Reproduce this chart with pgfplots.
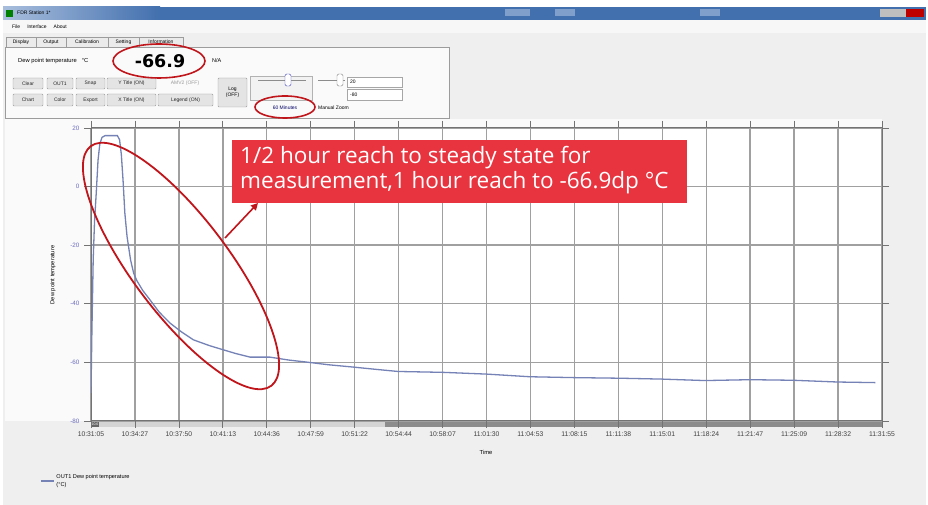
\documentclass[border=0pt]{standalone}
\usepackage{pgfplots}
\pgfplotsset{compat=1.18}
\usepackage{fontspec}
\setmainfont{Liberation Sans}
\newfontfamily\seg{Open Sans}
\newfontfamily\dvb{DejaVu Sans}
\usetikzlibrary{arrows.meta}
\newcommand\fs[1]{\fontsize{#1}{#1}\selectfont}
\definecolor{winbg}{HTML}{EFEFEF}
\definecolor{gridc}{HTML}{A0A0A0}
\definecolor{curve}{HTML}{7482B6}
\definecolor{annred}{HTML}{E8343F}
\definecolor{ellred}{HTML}{C0161B}
\definecolor{ytl}{HTML}{6C6CC0}
\definecolor{btnfill}{HTML}{E4E4E4}
\definecolor{btnbord}{HTML}{9C9C9C}
\definecolor{titleblue}{HTML}{4270AE}
\definecolor{titlelight}{HTML}{A9BEDD}
\newcommand\btn[5]{\draw[btnbord, fill=btnfill, rounded corners=1pt] (#1,#2) rectangle (#3,#4);
  \node[inner sep=0pt, text=black!85, font=\fs{5}] at ({(#1+#3)/2},{(#2+#4)/2}) {#5};}
\begin{document}
\begin{tikzpicture}
\path[use as bounding box] (0pt,0pt) rectangle (928pt,505pt);
\begin{scope}[x=1pt, y=-1pt, shift={(0pt,505pt)}]
\fill[white] (0,0) rectangle (928,505);
\fill[winbg] (3,7) rectangle (926,505);
% title bar
\fill[titleblue] (3,7) rectangle (926,20);
\shade[left color=titlelight, right color=titleblue] (3,7) rectangle (160,20);
\fill[titlelight!60!titleblue] (505,9) rectangle (530,16);
\fill[titlelight!60!titleblue] (555,9) rectangle (575,16);
\fill[titlelight!60!titleblue] (700,9) rectangle (720,16);
\fill[green!50!black] (6,10) rectangle (13,17);
\node[anchor=west, inner sep=0pt, font=\fs{5}] at (17,12.5) {FDR Station 1*};
\fill[gray!50] (880,9) rectangle (906,17);
\fill[red!75!black] (906,9) rectangle (924,17);
% menu
\fill[white!97!black] (3,20) rectangle (926,33);
\node[anchor=west, inner sep=0pt, font=\fs{5}] at (12,26.5) {File\hspace{7pt}Interface\hspace{7pt}About};
% tabs
\foreach \a/\b/\t in {6/36/Display,36/66/Output,66/108/Calibration,108/139/Setting,139/183/Information}{
  \draw[btnbord, fill=white!92!black] (\a,37) rectangle (\b,47);
  \node[inner sep=0pt, font=\fs{5}] at ({(\a+\b)/2},42) {\t};}
% panel
\draw[btnbord, fill=white!98!black] (5,47) rectangle (449,118);
\node[anchor=west, inner sep=0pt, font=\fs{5.8}] at (18,61) {Dew point temperature\hspace{5pt}°C};
\node[inner sep=0pt, font=\dvb\bfseries\fs{17.5}] at (160,61) {-66.9};
\node[anchor=west, inner sep=0pt, font=\fs{5.5}] at (212,61) {N/A};
\btn{13}{78}{43}{89}{Clear}
\btn{47}{78}{73}{89}{OUT1}
\btn{76}{78}{105}{89}{Snap}
\btn{107}{78}{156}{89}{Y Title (ON)}
\node[inner sep=0pt, text=black!40, font=\fs{5}] at (185,83.5) {AMV2 (OFF)};
\btn{13}{94}{43}{106}{Chart}
\btn{47}{94}{73}{106}{Color}
\btn{76}{94}{105}{106}{Export}
\btn{107}{94}{156}{106}{X Title (ON)}
\btn{158}{94}{213}{106}{Legend (ON)}
\draw[btnbord, fill=btnfill, rounded corners=1pt] (218,78) rectangle (247,107);
\node[inner sep=0pt, align=center, font=\fs{5}] at (232.5,92.5) {Log\\[1pt](OFF)};
\draw[black!30, fill=white!95!black] (250,76) rectangle (312,100);
\draw[black!45, line width=0.8pt] (258,80) -- (306,80);
\draw[blue!50!gray, fill=white, rounded corners=1.5pt] (285,74) rectangle (291,86);
\draw[black!45, line width=0.8pt] (318,80) -- (345,80);
\draw[gray, fill=white, rounded corners=1.5pt] (337,74) rectangle (343,86);
\draw[black!35, fill=white] (347,77) rectangle (402,87);
\node[anchor=west, inner sep=0pt, font=\fs{5}] at (350,82) {20};
\draw[black!35, fill=white] (347,89) rectangle (402,100);
\node[anchor=west, inner sep=0pt, font=\fs{5}] at (350,94.5) {-80};
\node[inner sep=0pt, text=blue!40!black, font=\fs{5}] at (285,108) {60 Minutes};
\node[anchor=west, inner sep=0pt, font=\fs{5}] at (318,108) {Manual Zoom};
% chart area background
\fill[white!98!black] (5,119) rectangle (882,421);
% scrollbar
\fill[black!17] (91,421) rectangle (882,427.5);
\fill[black!45] (385,421) rectangle (882,427.5);
\fill[black!60] (91,421) rectangle (99,427.5);
\node[inner sep=0pt, text=white, font=\fs{3.5}] at (95,424.3) {10.6};
\end{scope}
\begin{axis}[
  at={(91pt,84pt)}, anchor=south west,
  scale only axis, width=791pt, height=293pt,
  xmin=0, xmax=18, ymin=-80, ymax=20,
  xtick={0,...,18},
  xticklabels={10:31:05,10:34:27,10:37:50,10:41:13,10:44:36,10:47:59,10:51:22,10:54:44,10:58:07,11:01:30,11:04:53,11:08:15,11:11:38,11:15:01,11:18:24,11:21:47,11:25:09,11:28:32,11:31:55},
  ytick={-80,-60,...,20},
  /pgf/number format/assume math mode=true,
  grid=major, major grid style={gridc, line width=1.4pt},
  axis line style={black!55, line width=1pt},
  tick style={black!55, line width=0.7pt},
  tick align=outside, major tick length=7pt,
  xticklabel style={font=\fs{6.8}, text=black!75},
  yticklabel style={font=\fs{6.3}, text=ytl, xshift=-1pt},
  axis background/.style={fill=white},
  legend style={at={(-0.0645,-0.174)}, anchor=north west, draw=none, fill=none,
    font=\fs{5.6}, inner sep=0pt, cells={anchor=west}},
  legend image code/.code={\draw[#1] (0pt,0pt) -- (13pt,0pt);},
]
\addplot[curve, line width=1.3pt] coordinates {
(0,-70.5) (0.02,-50) (0.05,-25) (0.08,-12) (0.12,-2) (0.16,9) (0.2,14.5) (0.25,16.8)
(0.32,17.4) (0.6,17.4) (0.65,16) (0.69,11) (0.73,2) (0.77,-9) (0.82,-17) (0.9,-25)
(0.97,-29.5) (1.04,-32) (1.18,-35.5) (1.34,-38.6) (1.55,-42.8) (1.8,-46.6) (2.05,-49.5)
(2.33,-52.3) (2.7,-54.3) (3.01,-55.7) (3.3,-57) (3.62,-58.2) (4.07,-58.2) (4.5,-59.2)
(4.91,-59.9) (5.4,-60.8) (5.97,-61.6) (6.5,-62.4) (6.99,-63.1) (8.02,-63.4) (9.01,-64.0)
(9.99,-64.9) (11.01,-65.2) (12.04,-65.4) (12.99,-65.7) (13.97,-66.2) (15.0,-65.9)
(15.98,-66.1) (17.0,-66.7) (17.85,-66.9)};
\addlegendentry{\shortstack[l]{OUT1 Dew point temperature\\(°C)}}
\end{axis}
\begin{scope}[x=1pt, y=-1pt, shift={(0pt,505pt)}]
\node[inner sep=0pt, font=\fs{5.8}] at (486,452) {Time};
\node[inner sep=0pt, rotate=90, font=\fs{5.8}] at (53,275) {Dew point temperature};
% annotations
\draw[ellred, line width=1.6pt] (159,61) ellipse [x radius=46, y radius=17];
\draw[ellred, line width=1.6pt] (285,107) ellipse [x radius=30, y radius=11];
\draw[ellred, line width=1.8pt, rotate around={-53:(181,266)}] (181,266) ellipse [x radius=150, y radius=48];
\draw[ellred, line width=1.6pt, -{Triangle[length=7pt,width=7pt]}] (225,238) -- (258,203);
\fill[annred] (232,140) rectangle (687,203);
\node[anchor=base west, inner sep=0pt, text=white, font=\seg\fs{22.5}] at (240,164) {1/2 hour reach to steady state for};
\node[anchor=base west, inner sep=0pt, text=white, font=\seg\fs{22.5}] at (240,189) {measurement,1 hour reach to -66.9dp °C};
\end{scope}
\end{tikzpicture}
\end{document}
